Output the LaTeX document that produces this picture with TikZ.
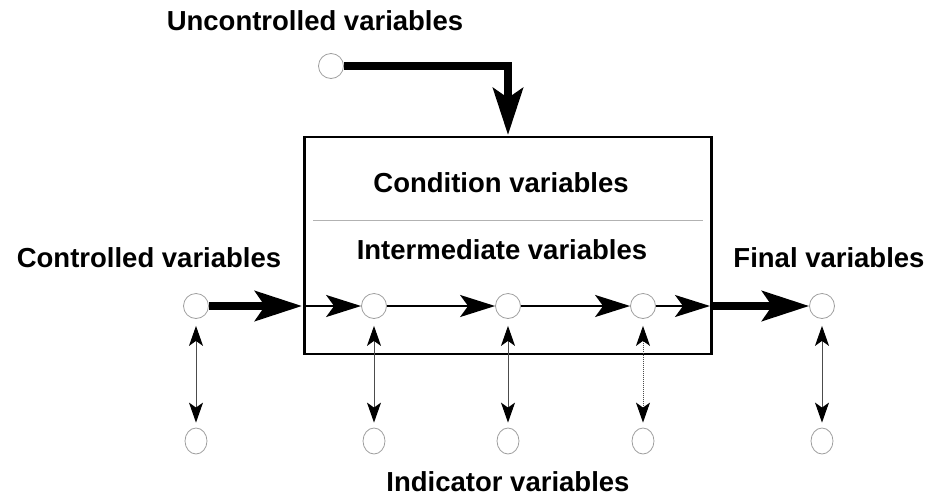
\documentclass[tikz,border=0pt]{standalone}
\usepackage{fontspec}
\setmainfont{Liberation Sans}
\usetikzlibrary{arrows.meta,shapes.geometric}
\begin{document}
\begin{tikzpicture}[x=1pt,y=-1pt,
  lbl/.style={font=\fontsize{27.5}{30}\selectfont\bfseries, anchor=base, inner sep=0pt},
  varc/.style={circle, draw=gray!75, line width=0.8pt, fill=white, minimum size=25pt, inner sep=0pt},
  indc/.style={ellipse, draw=gray!75, line width=0.8pt, fill=white, minimum width=22pt, minimum height=26pt, inner sep=0pt},
  thickarr/.style={line width=7.5pt, -{Stealth[length=47pt,width=30pt,inset=10pt]}},
  thinarr/.style={line width=2pt, -{Stealth[length=35pt,width=22pt,inset=8pt]}},
  dblarr/.style={line width=1pt, draw=black!70, {Stealth[length=20pt,width=14pt,inset=5pt,black]}-{Stealth[length=20pt,width=14pt,inset=5pt,black]}}
]
\useasboundingbox (0,0) rectangle (930,499);

% box
\node[draw, line width=2.5pt, minimum width=407pt, minimum height=217pt, inner sep=0pt] (box) at (508,245.5) {};
\draw[gray!60, line width=1pt] (313,220) coordinate (gl) -- (703,220) coordinate (gr);

% labels
\node[lbl] (tunc) at (315,30) {Uncontrolled variables};
\node[lbl] (tcond) at (501,192) {Condition variables};
\node[lbl] (tint) at (502,259) {Intermediate variables};
\node[lbl] (tctrl) at (149,267) {Controlled variables};
\node[lbl] (tfin) at (829,267) {Final variables};
\node[lbl] (tind) at (508,491) {Indicator variables};

% circles
\node[varc] (u) at (331,66) {};
\node[varc] (c1) at (196,306) {};
\node[varc] (c2) at (374,306) {};
\node[varc] (c3) at (508,306) {};
\node[varc] (c4) at (643,306) {};
\node[varc] (c5) at (822,306) {};
\node[indc] (b1) at (196,441) {};
\node[indc] (b2) at (374,441) {};
\node[indc] (b3) at (508,441) {};
\node[indc] (b4) at (643,441) {};
\node[indc] (b5) at (822,441) {};

\coordinate (topin) at (508,135);
\coordinate (lin) at (302,306);
\coordinate (lout) at (305,306);
\coordinate (rin) at (710,306);
\coordinate (rout) at (712,306);

% top arrow
\draw[thickarr, line join=miter] (u.east) -- (topin |- u) -- (topin);

% main row
\draw[thickarr] (c1.east) -- (lin);
\draw[thinarr] (lout) -- (c2.west);
\draw[thinarr] (c2.east) -- (c3.west);
\draw[thinarr] (c3.east) -- (c4.west);
\draw[thinarr] (c4.east) -- (rin);
\draw[thickarr] (rout) -- (c5.west);

% double arrows
\draw[dblarr] ([yshift=-7pt]c1.south) -- ([yshift=5pt]b1.north);
\draw[dblarr] ([yshift=-7pt]c2.south) -- ([yshift=5pt]b2.north);
\draw[dblarr] ([yshift=-7pt]c3.south) -- ([yshift=5pt]b3.north);
\draw[dblarr, densely dotted] ([yshift=-7pt]c4.south) -- ([yshift=5pt]b4.north);
\draw[dblarr] ([yshift=-7pt]c5.south) -- ([yshift=5pt]b5.north);
\end{tikzpicture}
\end{document}
